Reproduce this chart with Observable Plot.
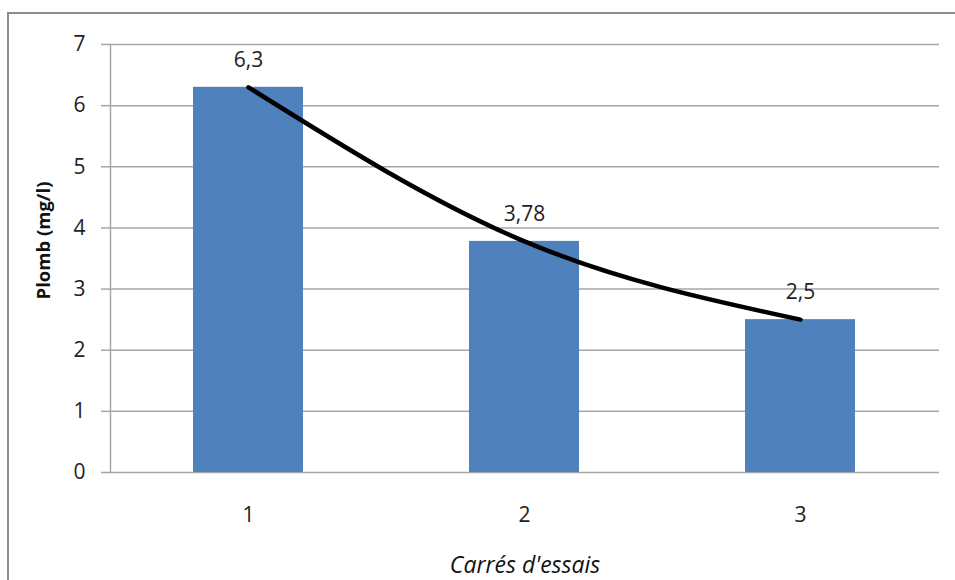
<!DOCTYPE html>
<html>
<head>
<meta charset="utf-8">
<script src="https://cdn.jsdelivr.net/npm/d3@7"></script>
<script src="https://cdn.jsdelivr.net/npm/@observablehq/plot@0.6"></script>
<style>
  html, body { margin: 0; padding: 0; background: #fff; overflow: hidden; }
  #wrap { position: relative; width: 955px; height: 580px; overflow: hidden; }
  #border { position: absolute; left: 7px; top: 12px; width: 1000px; height: 700px; border-left: 2px solid #8c8c8c; border-top: 2px solid #8c8c8c; }
  #chart { position: absolute; left: 0; top: 0; }
</style>
</head>
<body>
<div id="wrap"><div id="border"></div><div id="chart"></div></div>
<script>
const categories = ["1", "2", "3"];
const values = [6.3, 3.78, 2.5];
const valueLabels = ["6,3", "3,78", "2,5"];
const yTicks = [0, 1, 2, 3, 4, 5, 6, 7];
const xTitle = "Carrés d'essais";
const yTitle = "Plomb (mg/l)";

const data = categories.map((c, i) => ({cat: c, v: values[i], label: valueLabels[i]}));
const font = "'Open Sans', sans-serif";

const chart = Plot.plot({
  width: 955,
  height: 580,
  marginLeft: 110,
  marginRight: 16,
  marginTop: 44,
  marginBottom: 108,
  style: {fontFamily: font, fontSize: "21px", color: "#222", background: "transparent"},
  x: {type: "band", domain: categories, paddingInner: 0.6, paddingOuter: 0.3},
  y: {domain: [0, 7]},
  marks: [
    Plot.ruleY(yTicks, {y: d => d, stroke: "#a6a6a6", strokeWidth: 1.5}),
    Plot.axisY({ticks: yTicks, tickFormat: d => String(d), tickSize: 9, tickPadding: 16, stroke: "#a6a6a6", strokeWidth: 1.5, strokeOpacity: 1, label: null, fontSize: 21, fill: "#222"}),
    Plot.axisX({tickSize: 0, tickPadding: 35, label: null, fontSize: 21, fill: "#222"}),
    Plot.frame({anchor: "left", stroke: "#a6a6a6", strokeWidth: 1.5}),
    Plot.barY(data, {x: "cat", y: "v", fill: "#4f81bd"}),
    Plot.line(data, {x: "cat", y: "v", stroke: "#000", strokeWidth: 4.5, curve: "natural"}),
    Plot.text(data, {x: "cat", y: "v", text: "label", dy: -27, fontSize: 21, fill: "#222"}),
    Plot.text([xTitle], {frameAnchor: "bottom", text: d => d, dy: 100, fontSize: 23, fontStyle: "italic", fill: "#111", textAnchor: "middle"}),
    Plot.text([yTitle], {frameAnchor: "left", text: d => d, dx: -66, dy: -18, rotate: -90, fontSize: 18.5, fontWeight: "bold", fill: "#111", textAnchor: "middle"})
  ]
});
document.getElementById("chart").appendChild(chart);
</script>
</body>
</html>
